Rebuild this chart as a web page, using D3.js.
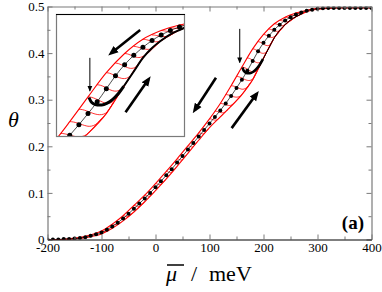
<!DOCTYPE html>
<html>
<head>
<meta charset="utf-8">
<script src="https://cdn.jsdelivr.net/npm/d3@7"></script>
<style>
body { margin: 0; background: #fff; }
svg text { font-family: "Liberation Serif", "Times New Roman", "DejaVu Serif", serif !important; fill: #000; }
</style>
</head>
<body>
<script>
const width = 382;
const height = 292;

// black dotted curve, every 10 meV from -200 to 400
const muDots = d3.range(-200, 401, 10);
const thetaMid = [0.000, 0.000, 0.000, 0.001, 0.001, 0.002, 0.003, 0.005, 0.008, 0.011,
  0.015, 0.021, 0.028, 0.036, 0.045, 0.055, 0.066, 0.077, 0.088, 0.100,
  0.112, 0.125, 0.138, 0.151, 0.165, 0.179, 0.193, 0.207, 0.221, 0.235,
  0.249, 0.263, 0.277, 0.292, 0.308, 0.325, 0.343, 0.362, 0.383, 0.404,
  0.422, 0.437, 0.450, 0.461, 0.470, 0.477, 0.483, 0.487, 0.491, 0.493,
  0.495, 0.496, 0.497, 0.497, 0.497, 0.497, 0.497, 0.497, 0.497, 0.497, 0.497];

// red outer branches, every 20 meV
const muBranch = d3.range(-200, 401, 20);
const thetaUpper = [0.000, 0.000, 0.002, 0.004, 0.010, 0.018, 0.033, 0.051, 0.073, 0.095,
  0.120, 0.146, 0.173, 0.201, 0.229, 0.259, 0.292, 0.330, 0.370, 0.409,
  0.440, 0.463, 0.477, 0.486, 0.492, 0.496, 0.497, 0.498, 0.498, 0.498, 0.498];
const thetaLower = [0.000, 0.000, 0.000, 0.002, 0.006, 0.012, 0.024, 0.040, 0.059, 0.081,
  0.105, 0.130, 0.157, 0.185, 0.213, 0.240, 0.263, 0.286, 0.311, 0.343,
  0.389, 0.433, 0.461, 0.478, 0.489, 0.494, 0.496, 0.497, 0.497, 0.497, 0.497];

// red scanning curves leave the upper branch at these chemical potentials
const scanStarts = [-100, -80, -60, -40, -20, 0, 20, 40, 60, 80, 100, 110, 120, 130, 140,
  150, 160, 170, 180, 190, 200, 210, 220, 230, 240, 250, 260];

// thick black reversal curve
const hook = [[161, 0.369], [163, 0.363], [166, 0.359], [170, 0.357], [175, 0.357],
  [181, 0.360], [187, 0.366], [193, 0.375], [199, 0.387]];
const hookTail = [[199, 0.387], [210, 0.411], [220, 0.433], [230, 0.449], [240, 0.461],
  [250, 0.471], [260, 0.478], [270, 0.484]];

// arrows [mu, theta] tail -> head
const mainArrows = [
  {from: [112, 0.347], to: [73, 0.278], thick: true},
  {from: [141, 0.239], to: [187, 0.312], thick: true},
  {from: [156, 0.452], to: [156, 0.380], thick: false}
];
const insetArrows = [
  {from: [217, 0.478], to: [185.5, 0.441], thick: true},
  {from: [201, 0.345], to: [226, 0.398], thick: true},
  {from: [162, 0.433], to: [162, 0.380], thick: false}
];

const xTicks = [-200, -100, 0, 100, 200, 300, 400];
const xMinor = [-150, -50, 50, 150, 250, 350];
const yTicks = [0, 0.1, 0.2, 0.3, 0.4, 0.5];
const yMinor = [0.05, 0.15, 0.25, 0.35, 0.45];

const x = d3.scaleLinear().domain([-200, 400]).range([47.5, 371.5]);
const y = d3.scaleLinear().domain([0, 0.5]).range([239.5, 6.5]);
const xi = d3.scaleLinear().domain([125.5, 265.5]).range([56.5, 184.5]);
const yi = d3.scaleLinear().domain([0.306, 0.503]).range([136.5, 14.5]);

const U = d3.scaleLinear().domain(muBranch).range(thetaUpper).clamp(true);
const L = d3.scaleLinear().domain(muBranch).range(thetaLower).clamp(true);

function scanCurve(s) {
  const us = U(s);
  let lo = s, hi = 400;
  for (let k = 0; k < 40; k++) {
    const m = (lo + hi) / 2;
    if (L(m) < us) lo = m; else hi = m;
  }
  const m = hi;
  const end = Math.min(400, m + 0.5 * (m - s));
  return d3.range(0, 25).map(i => {
    const mu = s + (end - s) * i / 24;
    const t = (mu - s) / (m - s);
    const w = Math.min(1, t * t);
    return [mu, (1 - w) * us + w * L(mu)];
  });
}

const serif = '"Liberation Serif", "Times New Roman", "DejaVu Serif", serif';

const svg = d3.select('body').append('svg')
  .attr('width', width)
  .attr('height', height);

const defs = svg.append('defs');
defs.append('clipPath').attr('id', 'clip-main')
  .append('rect').attr('x', 47.5).attr('y', 6.5).attr('width', 324).attr('height', 233);
defs.append('clipPath').attr('id', 'clip-inset')
  .append('rect').attr('x', 56.5).attr('y', 14.5).attr('width', 128).attr('height', 122);

defs.append('marker').attr('id', 'head-thick')
  .attr('markerUnits', 'userSpaceOnUse')
  .attr('viewBox', '0 -5 10 10')
  .attr('refX', 6).attr('refY', 0)
  .attr('markerWidth', 10).attr('markerHeight', 10)
  .attr('orient', 'auto')
  .append('path').attr('d', 'M0,-4L10,0L0,4Z').attr('fill', '#000');
defs.append('marker').attr('id', 'head-thin')
  .attr('markerUnits', 'userSpaceOnUse')
  .attr('viewBox', '0 -3 6 6')
  .attr('refX', 5).attr('refY', 0)
  .attr('markerWidth', 6).attr('markerHeight', 6)
  .attr('orient', 'auto')
  .append('path').attr('d', 'M0,-2.5L6,0L0,2.5Z').attr('fill', '#000');

function drawCurves(g, xs, ys, dotR, hookW, tailW) {
  const line = d3.line().x(d => xs(d[0])).y(d => ys(d[1]));
  const smooth = d3.line().x(d => xs(d[0])).y(d => ys(d[1])).curve(d3.curveMonotoneX);

  g.selectAll('path.scan')
    .data(scanStarts.map(scanCurve))
    .join('path')
    .attr('class', 'scan')
    .attr('d', line)
    .attr('fill', 'none')
    .attr('stroke', '#ff0000')
    .attr('stroke-width', 0.8);

  g.selectAll('path.branch')
    .data([thetaUpper, thetaLower])
    .join('path')
    .attr('class', 'branch')
    .attr('d', t => smooth(muBranch.map((m, i) => [m, t[i]])))
    .attr('fill', 'none')
    .attr('stroke', '#ff0000')
    .attr('stroke-width', 1.1);

  g.append('path')
    .attr('d', smooth(muDots.map((m, i) => [m, thetaMid[i]])))
    .attr('fill', 'none')
    .attr('stroke', '#000')
    .attr('stroke-width', 0.7);

  g.append('path')
    .attr('d', smooth(hookTail))
    .attr('fill', 'none')
    .attr('stroke', '#000')
    .attr('stroke-width', tailW);

  g.append('path')
    .attr('d', smooth(hook))
    .attr('fill', 'none')
    .attr('stroke', '#000')
    .attr('stroke-width', hookW);

  g.selectAll('circle.dot')
    .data(muDots.map((m, i) => [m, thetaMid[i]]))
    .join('circle')
    .attr('class', 'dot')
    .attr('cx', d => xs(d[0]))
    .attr('cy', d => ys(d[1]))
    .attr('r', dotR)
    .attr('fill', '#000');
}

function drawArrows(g, xs, ys, arrows) {
  g.selectAll('line.arrow')
    .data(arrows)
    .join('line')
    .attr('class', 'arrow')
    .attr('x1', d => xs(d.from[0])).attr('y1', d => ys(d.from[1]))
    .attr('x2', d => xs(d.to[0])).attr('y2', d => ys(d.to[1]))
    .attr('stroke', '#000')
    .attr('stroke-width', d => d.thick ? 2.6 : 1)
    .attr('marker-end', d => d.thick ? 'url(#head-thick)' : 'url(#head-thin)');
}

// main panel
const main = svg.append('g').attr('clip-path', 'url(#clip-main)');
drawCurves(main, x, y, 2, 2.6, 1);
drawArrows(svg.append('g'), x, y, mainArrows);

// axes, ticks pointing inward
const grey = '#7a7a7a';
function styleAxis(g, domainColor) {
  g.attr('font-family', serif).attr('font-size', 13);
  g.select('.domain').attr('stroke', domainColor).attr('stroke-width', 1.2);
  g.selectAll('.tick line').attr('stroke', grey);
  g.selectAll('.tick text').attr('fill', '#000');
}
function minorAxis(g) {
  g.select('.domain').remove();
  g.selectAll('line').attr('stroke', grey);
}

const fmtX = d => String(d);
const fmtY = d => d === 0 ? '0' : d.toFixed(1);

svg.append('g').attr('transform', 'translate(0,239.5)')
  .call(d3.axisBottom(x).tickValues(xMinor).tickSize(-3).tickFormat(''))
  .call(minorAxis);
svg.append('g').attr('transform', 'translate(0,6.5)')
  .call(d3.axisTop(x).tickValues(xMinor).tickSize(-3).tickFormat(''))
  .call(minorAxis);
svg.append('g').attr('transform', 'translate(47.5,0)')
  .call(d3.axisLeft(y).tickValues(yMinor).tickSize(-3).tickFormat(''))
  .call(minorAxis);
svg.append('g').attr('transform', 'translate(371.5,0)')
  .call(d3.axisRight(y).tickValues(yMinor).tickSize(-3).tickFormat(''))
  .call(minorAxis);

svg.append('g').attr('transform', 'translate(0,6.5)')
  .call(d3.axisTop(x).tickValues(xTicks).tickSize(-5).tickSizeOuter(0).tickFormat(''))
  .call(g => styleAxis(g, grey));
svg.append('g').attr('transform', 'translate(371.5,0)')
  .call(d3.axisRight(y).tickValues(yTicks).tickSize(-5).tickSizeOuter(0).tickFormat(''))
  .call(g => styleAxis(g, grey));
svg.append('g').attr('transform', 'translate(47.5,0)')
  .call(d3.axisLeft(y).tickValues(yTicks).tickSize(-5).tickSizeOuter(0).tickPadding(3).tickFormat(fmtY))
  .call(g => styleAxis(g, grey));
svg.append('g').attr('transform', 'translate(0,239.5)')
  .call(d3.axisBottom(x).tickValues(xTicks).tickSize(-5).tickSizeOuter(0).tickPadding(3.5).tickFormat(fmtX))
  .call(g => styleAxis(g, '#000'));

// inset
svg.append('rect')
  .attr('x', 56.5).attr('y', 14.5).attr('width', 128).attr('height', 122)
  .attr('fill', '#fff');
const inset = svg.append('g').attr('clip-path', 'url(#clip-inset)');
drawCurves(inset, xi, yi, 2.5, 3, 2);
drawArrows(svg.append('g'), xi, yi, insetArrows);
svg.append('rect')
  .attr('x', 56.5).attr('y', 14.5).attr('width', 128).attr('height', 122)
  .attr('fill', 'none').attr('stroke', grey).attr('stroke-width', 1.2);
svg.append('line')
  .attr('x1', 56).attr('x2', 185).attr('y1', 14.5).attr('y2', 14.5)
  .attr('stroke', '#000').attr('stroke-width', 1.2);

// labels
const labels = svg.append('g').attr('font-family', serif);
labels.append('text').attr('x', 364).attr('y', 229)
  .attr('text-anchor', 'end').attr('font-size', 19).attr('font-weight', 'bold')
  .text('(a)');
labels.append('text').attr('x', 8).attr('y', 127)
  .attr('font-size', 22).attr('font-style', 'italic')
  .text('θ');
labels.append('text').attr('x', 166).attr('y', 281)
  .attr('font-size', 22).attr('font-style', 'italic')
  .text('μ');
labels.append('line')
  .attr('x1', 167).attr('x2', 184).attr('y1', 265).attr('y2', 265)
  .attr('stroke', '#000').attr('stroke-width', 1.5);
labels.append('text').attr('x', 191).attr('y', 281)
  .attr('font-size', 22)
  .text('/');
labels.append('text').attr('x', 209).attr('y', 281)
  .attr('font-size', 22)
  .text('meV');
</script>
</body>
</html>
